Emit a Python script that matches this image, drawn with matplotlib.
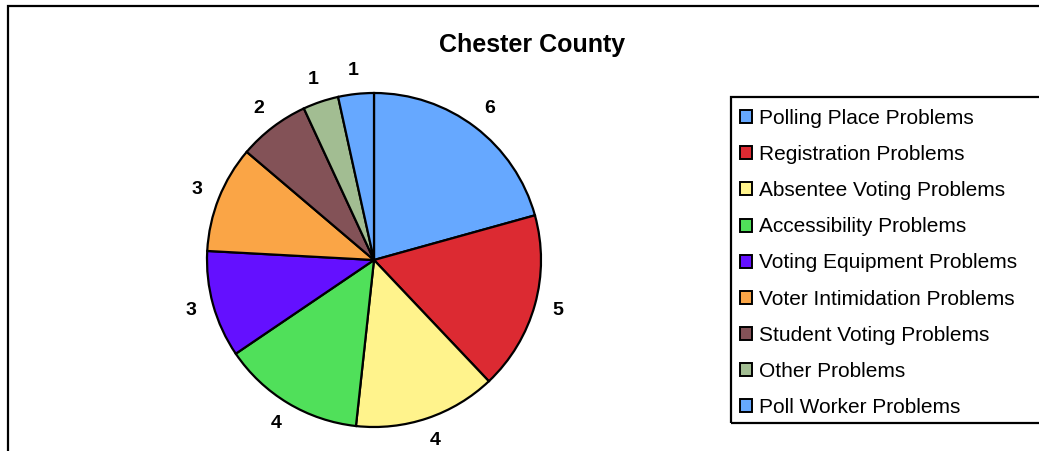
import matplotlib
matplotlib.use("Agg")
import matplotlib.pyplot as plt
from matplotlib.patches import Patch, Rectangle

plt.rcParams['font.family'] = ['Liberation Sans', 'DejaVu Sans']

# complaint counts by category
categories = ["Polling Place Problems", "Registration Problems", "Absentee Voting Problems",
              "Accessibility Problems", "Voting Equipment Problems", "Voter Intimidation Problems",
              "Student Voting Problems", "Other Problems", "Poll Worker Problems"]
counts = [6, 5, 4, 4, 3, 3, 2, 1, 1]
colors = ["#66A8FF", "#DC2A32", "#FFF38C", "#50E05A", "#6410FF",
          "#FAA546", "#835257", "#A2BD92", "#66A8FF"]

W, H = 1039, 451
fig = plt.figure(figsize=(W / 100, H / 100), dpi=100)

# chart area border (runs off the right and bottom edges)
fig.patches.append(Rectangle((8 / W, -0.1), 1.2, (H - 6) / H + 0.1, transform=fig.transFigure,
                             fill=False, edgecolor="black", linewidth=1.6))

cx, cy, r = 374, 260, 167
ax = fig.add_axes([(cx - r) / W, (H - cy - r) / H, 2 * r / W, 2 * r / H])
total = sum(counts)
wedges, texts = ax.pie(counts, colors=colors, startangle=90, counterclock=False,
                       radius=1.0,
                       wedgeprops=dict(edgecolor="black", linewidth=1.6),
                       autopct=lambda p: "%d" % round(p * total / 100),
                       pctdistance=1.14,
                       textprops=dict(fontsize=14, fontweight="bold"))[:2]
ax.set_xlim(-1, 1)
ax.set_ylim(-1, 1)
ax.set_aspect("equal")

fig.text(532 / W, 1 - 45 / H, "Chester County", ha="center", va="center",
         fontsize=18, fontweight="bold")

# legend box (also runs off the right edge)
fig.patches.append(Rectangle((731 / W, 1 - 423 / H), 1.0, (423 - 97) / H,
                             transform=fig.transFigure, fill=False,
                             edgecolor="black", linewidth=1.6))
handles = [Patch(facecolor=c, edgecolor="black", linewidth=1.4) for c in colors]
fig.legend(handles, categories, loc="upper left",
           bbox_to_anchor=(737 / W, 1 - 106 / H), frameon=False,
           fontsize=15, handlelength=0.58, handleheight=0.58,
           handletextpad=0.34, labelspacing=0.82, borderpad=0.15,
           borderaxespad=0)

fig.savefig("out.png", dpi=100)
